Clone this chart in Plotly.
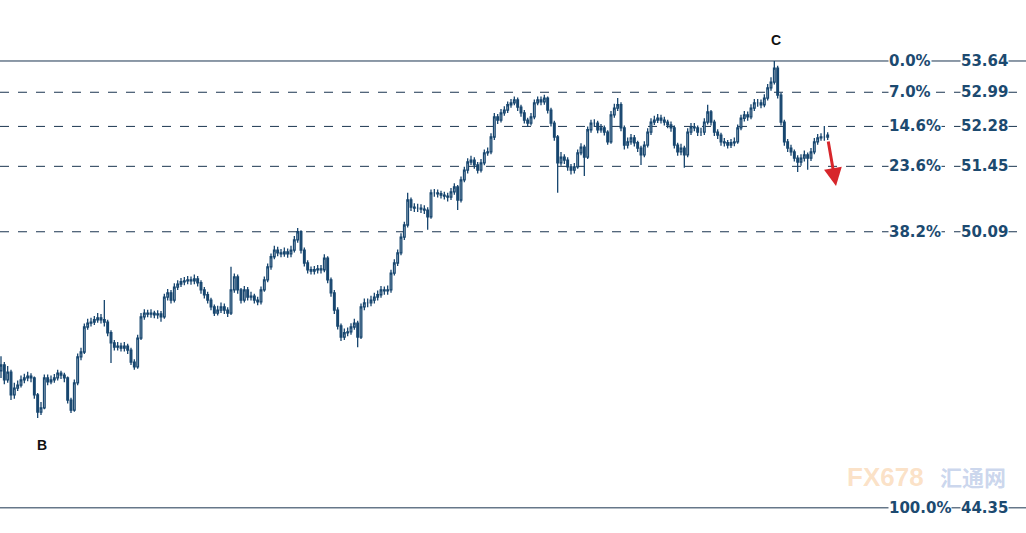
import plotly.graph_objects as go

# ---- data ----
closes = [
    47.32, 47.01, 47.17, 46.70, 46.84, 46.90, 47.01, 47.05, 47.09, 47.05,
    46.70, 46.34, 46.43, 47.05, 46.97, 47.01, 47.05, 47.15, 47.11, 47.05,
    46.59, 46.38, 46.95, 47.49, 47.59, 48.11, 48.19, 48.21, 48.26, 48.30,
    48.26, 48.21, 47.99, 47.78, 47.69, 47.71, 47.67, 47.71, 47.63, 47.38,
    47.28, 47.88, 48.32, 48.40, 48.38, 48.40, 48.36, 48.38, 48.32, 48.73,
    48.82, 48.67, 48.94, 49.00, 49.05, 49.07, 49.09, 49.07, 49.11, 49.03,
    48.88, 48.78, 48.67, 48.53, 48.40, 48.46, 48.53, 48.46, 48.40, 48.88,
    49.15, 48.88, 48.67, 48.88, 48.73, 48.75, 48.67, 48.63, 48.88, 49.09,
    49.36, 49.57, 49.71, 49.65, 49.63, 49.67, 49.63, 49.71, 49.92, 50.09,
    49.71, 49.44, 49.30, 49.27, 49.30, 49.32, 49.30, 49.54, 49.09, 48.82,
    48.46, 48.13, 47.90, 47.99, 48.01, 48.11, 48.19, 47.90, 48.53, 48.61,
    48.61, 48.67, 48.73, 48.78, 48.88, 48.86, 48.88, 49.23, 49.44, 49.65,
    49.98, 50.23, 50.75, 50.60, 50.58, 50.58, 50.56, 50.54, 50.40, 50.90,
    50.90, 50.88, 50.85, 50.83, 50.81, 50.92, 51.02, 50.75, 51.17, 51.37,
    51.54, 51.58, 51.48, 51.37, 51.52, 51.73, 51.75, 52.06, 52.48, 52.41,
    52.56, 52.62, 52.73, 52.77, 52.83, 52.68, 52.56, 52.41, 52.35, 52.48,
    52.77, 52.83, 52.79, 52.87, 52.62, 52.35, 52.06, 51.52, 51.64, 51.58,
    51.44, 51.37, 51.44, 51.73, 51.85, 51.64, 52.21, 52.35, 52.35, 52.21,
    52.25, 52.16, 51.96, 52.52, 52.66, 52.73, 52.25, 51.89, 51.96, 52.04,
    51.94, 51.83, 51.69, 51.89, 52.16, 52.37, 52.41, 52.45, 52.41, 52.37,
    52.31, 52.25, 51.89, 51.75, 51.83, 51.69, 52.16, 52.27, 52.25, 52.16,
    52.16, 52.37, 52.58, 52.37, 52.16, 52.10, 51.96, 51.94, 51.89, 51.94,
    51.96, 52.25, 52.45, 52.52, 52.48, 52.66, 52.77, 52.77, 52.73, 52.87,
    53.08, 53.20, 53.49, 52.93, 52.37, 51.96, 51.83, 51.75, 51.62, 51.54,
    51.62, 51.69, 51.62, 51.75, 51.96, 52.04, 52.06, 52.06, 52.10,
]
first_open = 47.20

highs = [
    47.50, 47.38, 47.30, 47.22, 46.95, 47.00, 47.10, 47.14, 47.18, 47.15,
    47.08, 46.74, 46.55, 47.12, 47.12, 47.10, 47.13, 47.22, 47.20, 47.16,
    47.08, 46.64, 47.02, 47.56, 47.68, 48.18, 48.28, 48.30, 48.34, 48.40,
    48.38, 48.67, 48.26, 48.04, 47.84, 47.80, 47.78, 47.80, 47.76, 47.68,
    47.44, 47.95, 48.40, 48.48, 48.47, 48.48, 48.45, 48.46, 48.44, 48.80,
    48.90, 48.88, 49.02, 49.08, 49.13, 49.15, 49.17, 49.16, 49.20, 49.17,
    49.08, 48.94, 48.84, 48.72, 48.58, 48.55, 48.62, 48.60, 48.52, 49.36,
    49.22, 49.20, 48.92, 48.96, 48.94, 48.84, 48.80, 48.74, 48.95, 49.16,
    49.43, 49.64, 49.80, 49.78, 49.73, 49.76, 49.74, 49.80, 50.00, 50.17,
    50.12, 49.76, 49.50, 49.37, 49.38, 49.40, 49.40, 49.62, 49.58, 49.14,
    48.88, 48.52, 48.18, 48.08, 48.10, 48.19, 48.28, 48.24, 48.60, 48.70,
    48.70, 48.76, 48.82, 48.87, 48.96, 48.95, 48.97, 49.30, 49.52, 49.72,
    50.06, 50.30, 50.90, 50.80, 50.68, 50.67, 50.66, 50.64, 50.60, 50.97,
    50.98, 50.97, 50.94, 50.92, 50.90, 51.00, 51.10, 51.06, 51.24, 51.44,
    51.62, 51.67, 51.64, 51.54, 51.60, 51.80, 51.84, 52.14, 52.56, 52.54,
    52.64, 52.70, 52.80, 52.85, 52.90, 52.88, 52.73, 52.62, 52.46, 52.56,
    52.84, 52.90, 52.90, 52.94, 52.90, 52.67, 52.40, 52.10, 51.75, 51.70,
    51.64, 51.50, 51.52, 51.80, 51.93, 51.90, 52.28, 52.42, 52.43, 52.40,
    52.33, 52.30, 52.20, 52.60, 52.75, 52.87, 52.78, 52.30, 52.05, 52.12,
    52.10, 51.98, 51.88, 51.97, 52.24, 52.45, 52.50, 52.54, 52.52, 52.48,
    52.42, 52.38, 52.30, 51.94, 51.92, 51.88, 52.24, 52.35, 52.35, 52.30,
    52.25, 52.45, 52.73, 52.62, 52.42, 52.22, 52.15, 52.04, 52.00, 52.02,
    52.05, 52.32, 52.52, 52.60, 52.59, 52.74, 52.85, 52.85, 52.84, 52.95,
    53.16, 53.30, 53.64, 53.54, 52.98, 52.42, 52.02, 51.90, 51.80, 51.68,
    51.70, 51.78, 51.74, 51.83, 52.04, 52.12, 52.14, 52.29, 52.16,
]

lows = [
    47.05, 46.92, 46.95, 46.59, 46.62, 46.78, 46.85, 46.94, 46.98, 46.96,
    46.62, 46.22, 46.28, 46.40, 46.90, 46.92, 46.95, 47.00, 47.03, 46.96,
    46.52, 46.32, 46.35, 46.90, 47.42, 47.55, 48.05, 48.12, 48.15, 48.20,
    48.18, 48.12, 47.92, 47.36, 47.62, 47.62, 47.60, 47.60, 47.55, 47.32,
    47.22, 47.24, 47.84, 48.26, 48.31, 48.30, 48.29, 48.28, 48.22, 48.28,
    48.66, 48.60, 48.62, 48.88, 48.94, 48.98, 49.00, 48.99, 49.00, 48.95,
    48.80, 48.70, 48.60, 48.46, 48.34, 48.35, 48.40, 48.38, 48.32, 48.36,
    48.82, 48.80, 48.60, 48.62, 48.66, 48.66, 48.60, 48.56, 48.58, 48.84,
    49.04, 49.30, 49.52, 49.58, 49.56, 49.57, 49.55, 49.56, 49.66, 49.86,
    49.64, 49.37, 49.22, 49.20, 49.20, 49.22, 49.22, 49.25, 49.02, 48.74,
    48.38, 48.06, 47.82, 47.84, 47.92, 47.95, 48.05, 47.69, 47.86, 48.46,
    48.52, 48.54, 48.60, 48.66, 48.72, 48.78, 48.78, 48.82, 49.18, 49.38,
    49.60, 49.92, 50.18, 50.52, 50.50, 50.50, 50.48, 50.46, 50.13, 50.36,
    50.82, 50.80, 50.78, 50.76, 50.72, 50.75, 50.86, 50.54, 50.70, 51.12,
    51.30, 51.48, 51.40, 51.30, 51.32, 51.47, 51.67, 51.70, 52.00, 52.33,
    52.36, 52.50, 52.56, 52.67, 52.72, 52.60, 52.48, 52.34, 52.27, 52.30,
    52.43, 52.72, 52.72, 52.73, 52.55, 52.28, 51.98, 50.90, 51.46, 51.50,
    51.36, 51.28, 51.30, 51.40, 51.68, 51.25, 51.60, 52.15, 52.27, 52.14,
    52.15, 52.09, 51.90, 51.92, 52.46, 52.60, 52.18, 51.80, 51.82, 51.90,
    51.86, 51.75, 51.48, 51.64, 51.84, 52.10, 52.31, 52.35, 52.34, 52.30,
    52.24, 52.17, 51.82, 51.67, 51.68, 51.42, 51.64, 52.10, 52.18, 52.08,
    52.08, 52.10, 52.32, 52.30, 52.08, 52.02, 51.88, 51.86, 51.82, 51.83,
    51.87, 51.92, 52.20, 52.38, 52.40, 52.43, 52.60, 52.69, 52.66, 52.68,
    52.82, 53.02, 53.15, 52.86, 52.30, 51.88, 51.75, 51.67, 51.55, 51.33,
    51.46, 51.55, 51.38, 51.56, 51.70, 51.90, 51.98, 51.98, 52.00,
]

fib_pct = ["0.0%", "7.0%", "14.6%", "23.6%", "38.2%", "100.0%"]
fib_val = [53.64, 52.99, 52.28, 51.45, 50.09, 44.35]
fib_dash = ["solid", "dash", "dash", "dash", "dash", "solid"]

point_labels = ["B", "C"]
point_idx = [12.3, 232.5]
point_val = [45.66, 54.08]

# ---- build OHLC ----
idx = list(range(len(closes)))
opens = [first_open] + closes[:-1]

NAVY = "#17466f"
TXT = "#1c4a70"

fig = go.Figure()
fig.add_trace(go.Candlestick(
    x=idx, open=opens, high=highs, low=lows, close=closes,
    increasing=dict(line=dict(color=NAVY, width=1.3), fillcolor="white"),
    decreasing=dict(line=dict(color=NAVY, width=1.3), fillcolor=NAVY),
    whiskerwidth=0, showlegend=False, hoverinfo="skip",
))

for pct, val, dash in zip(fib_pct, fib_val, fib_dash):
    fig.add_shape(type="line", xref="paper", x0=0, x1=1, yref="y", y0=val, y1=val,
                  line=dict(color="#1b3550", width=1, dash=dash), layer="below")
    fig.add_annotation(xref="paper", x=888 / 1026, xanchor="left", yref="y", y=val,
                       text=f"<b>{pct}</b>", showarrow=False, bgcolor="white", borderpad=0,
                       font=dict(family="DejaVu Sans", size=15, color=TXT))
    fig.add_annotation(xref="paper", x=960 / 1026, xanchor="left", yref="y", y=val,
                       text=f"<b>{val:.2f}</b>", showarrow=False, bgcolor="white", borderpad=0,
                       font=dict(family="DejaVu Sans", size=15, color=TXT))

for lab, k, v in zip(point_labels, point_idx, point_val):
    fig.add_annotation(x=k, y=v, text=f"<b>{lab}</b>", showarrow=False,
                       font=dict(family="Liberation Sans", size=14, color="#111111"))

# red arrow
fig.add_annotation(xref="paper", yref="paper", x=836 / 1026, y=1 - 186 / 533,
                   ax=-8, ay=-46, showarrow=True, arrowhead=2, arrowsize=1.2,
                   arrowwidth=3, arrowcolor="#d7262b", text="")

# watermark
fig.add_annotation(xref="paper", yref="paper", x=845 / 1026, y=1 - 494 / 533,
                   xanchor="left", text="<b>FX678</b>", showarrow=False,
                   font=dict(family="Liberation Sans", size=26, color="rgba(247,190,130,0.45)"))
fig.add_annotation(xref="paper", yref="paper", x=938 / 1026, y=1 - 494 / 533,
                   xanchor="left", text="<b>汇通网</b>", showarrow=False,
                   font=dict(family="Noto Sans CJK SC", size=22, color="rgba(140,165,215,0.45)"))

fig.update_layout(
    width=1026, height=533,
    margin=dict(l=0, r=0, t=0, b=0),
    paper_bgcolor="white", plot_bgcolor="white",
    xaxis=dict(visible=False, range=[-0.3, 307.5], rangeslider=dict(visible=False)),
    yaxis=dict(visible=False, range=[43.827, 54.908]),
    showlegend=False,
)

fig.write_html("out.html", config={"displayModeBar": False},
               post_script="document.body.style.margin='0';document.body.style.overflow='hidden';")
